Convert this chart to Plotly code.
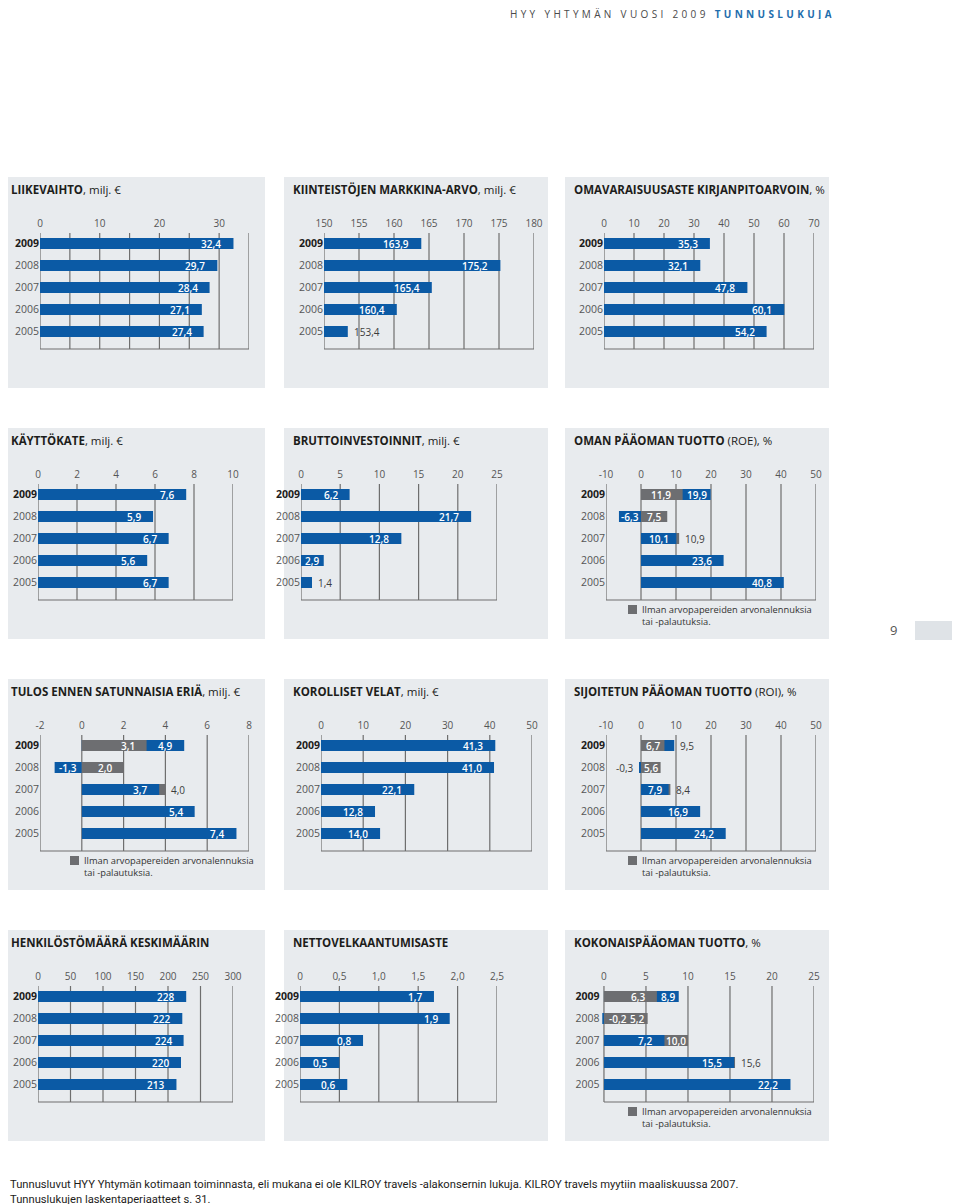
import plotly.graph_objects as go

# ---------------- data ----------------
YEARS = ["2009", "2008", "2007", "2006", "2005"]

LIIKEVAIHTO = [32.4, 29.7, 28.4, 27.1, 27.4]
KIINTEISTOT = [163.9, 175.2, 165.4, 160.4, 153.4]
OMAVARAISUUS = [35.3, 32.1, 47.8, 60.1, 54.2]
KAYTTOKATE = [7.6, 5.9, 6.7, 5.6, 6.7]
BRUTTOINVEST = [6.2, 21.7, 12.8, 2.9, 1.4]
ROE = [19.9, -6.3, 10.1, 23.6, 40.8]
ROE_ILMAN = [11.9, 7.5, 10.9, None, None]
TULOS = [4.9, -1.3, 3.7, 5.4, 7.4]
TULOS_ILMAN = [3.1, 2.0, 4.0, None, None]
KOROLLISET = [41.3, 41.0, 22.1, 12.8, 14.0]
ROI = [9.5, -0.3, 7.9, 16.9, 24.2]
ROI_ILMAN = [6.7, 5.6, 8.4, None, None]
HENKILOSTO = [228, 222, 224, 220, 213]
NETTOVELKA = [1.7, 1.9, 0.8, 0.5, 0.6]
KOKONAIS = [8.9, -0.2, 7.2, 15.5, 22.2]
KOKONAIS_ILMAN = [6.3, 5.2, 10.0, 15.6, None]

TICKS_LIIKEVAIHTO = [0, 10, 20, 30]
TICKS_KIINTEISTOT = [150, 155, 160, 165, 170, 175, 180]
TICKS_OMAVARAISUUS = [0, 10, 20, 30, 40, 50, 60, 70]
TICKS_KAYTTOKATE = [0, 2, 4, 6, 8, 10]
TICKS_BRUTTO = [0, 5, 10, 15, 20, 25]
TICKS_ROE = [-10, 0, 10, 20, 30, 40, 50]
TICKS_TULOS = [-2, 0, 2, 4, 6, 8]
TICKS_KOROLLISET = [0, 10, 20, 30, 40, 50]
TICKS_ROI = [-10, 0, 10, 20, 30, 40, 50]
TICKS_HENKILOSTO = [0, 50, 100, 150, 200, 250, 300]
TICKS_NETTO = [0, 0.5, 1.0, 1.5, 2.0, 2.5]
TICKLABELS_NETTO = ["0", "0,5", "1,0", "1,5", "2,0", "2,5"]
TICKS_KOKONAIS = [0, 5, 10, 15, 20, 25]

LEGEND_TEXT = ["Ilman arvopapereiden arvonalennuksia", "tai -palautuksia."]

# ---------------- style ----------------
W, H = 960, 1204
OX, OY = 8, 8          # the page body adds an 8px offset; positions below are screen pixels
FONT = "Open Sans, Noto Sans, sans-serif"
BLUE = "#0b5aa5"
GRAY = "#6d6e71"
PANEL_BG = "#e8ebee"
GRID = "#6e6e6e"
DARK = "#1d1d1b"
TICKC = "#555555"

ROW_TOPS = [177, 428, 679, 930]
COL_BG = [(2, 265), (284, 548), (565, 829)]


def PX(x):
    return (x - OX) / W


def PY(y):
    return 1 - (y - OY) / H


def fmt(v, dec=1):
    if dec == 0:
        return str(int(round(v)))
    return f"{v:.{dec}f}".replace(".", ",")


def grid_vals(lo, hi, step):
    out = []
    k = 0
    while lo + k * step <= hi + 1e-9:
        out.append(round(lo + k * step, 6))
        k += 1
    return out


PANELS = [
    dict(row=0, col=0, bold="LIIKEVAIHTO", rest=", milj. €", vals=LIIKEVAIHTO,
         dom=(40, 249), rng=(0, 35), grid=grid_vals(0, 35, 5), ticks=TICKS_LIIKEVAIHTO),
    dict(row=0, col=1, bold="KIINTEISTÖJEN MARKKINA-ARVO", rest=", milj. €", vals=KIINTEISTOT,
         dom=(324, 534), rng=(150, 180), grid=grid_vals(150, 180, 5), ticks=TICKS_KIINTEISTOT, base=150),
    dict(row=0, col=2, bold="OMAVARAISUUSASTE KIRJANPITOARVOIN", rest=", %", vals=OMAVARAISUUS,
         dom=(604, 814), rng=(0, 70), grid=grid_vals(0, 70, 10), ticks=TICKS_OMAVARAISUUS),
    dict(row=1, col=0, bold="KÄYTTÖKATE", rest=", milj. €", vals=KAYTTOKATE,
         dom=(38, 233), rng=(0, 10), grid=grid_vals(0, 10, 2), ticks=TICKS_KAYTTOKATE),
    dict(row=1, col=1, bold="BRUTTOINVESTOINNIT", rest=", milj. €", vals=BRUTTOINVEST,
         dom=(301, 497), rng=(0, 25), grid=grid_vals(0, 25, 5), ticks=TICKS_BRUTTO),
    dict(row=1, col=2, bold="OMAN PÄÄOMAN TUOTTO", rest=" (ROE), %", vals=ROE, ilman=ROE_ILMAN,
         dom=(606, 816), rng=(-10, 50), grid=grid_vals(-10, 50, 10), ticks=TICKS_ROE),
    dict(row=2, col=0, bold="TULOS ENNEN SATUNNAISIA ERIÄ", rest=", milj. €", vals=TULOS, ilman=TULOS_ILMAN,
         dom=(40, 249), rng=(-2, 8), grid=grid_vals(-2, 8, 2), ticks=TICKS_TULOS),
    dict(row=2, col=1, bold="KOROLLISET VELAT", rest=", milj. €", vals=KOROLLISET,
         dom=(321, 532), rng=(0, 50), grid=grid_vals(0, 50, 10), ticks=TICKS_KOROLLISET),
    dict(row=2, col=2, bold="SIJOITETUN PÄÄOMAN TUOTTO", rest=" (ROI), %", vals=ROI, ilman=ROI_ILMAN,
         dom=(606, 816), rng=(-10, 50), grid=grid_vals(-10, 50, 10), ticks=TICKS_ROI),
    dict(row=3, col=0, bold="HENKILÖSTÖMÄÄRÄ KESKIMÄÄRIN", rest="", vals=HENKILOSTO, dec=0,
         dom=(38, 233), rng=(0, 300), grid=grid_vals(0, 300, 50), ticks=TICKS_HENKILOSTO),
    dict(row=3, col=1, bold="NETTOVELKAANTUMISASTE", rest="", vals=NETTOVELKA,
         dom=(300, 497), rng=(0, 2.5), grid=grid_vals(0, 2.5, 0.5), ticks=TICKS_NETTO,
         ticklabels=TICKLABELS_NETTO),
    dict(row=3, col=2, bold="KOKONAISPÄÄOMAN TUOTTO", rest=", %", vals=KOKONAIS, ilman=KOKONAIS_ILMAN,
         dom=(600.6, 814), rng=(-0.4, 25), grid=grid_vals(0, 25, 5), ticks=TICKS_KOKONAIS),
]

CHAR_W = {",": 2.7, ".": 2.7, "-": 3.4}


def text_w(s):
    return sum(CHAR_W.get(c, 5.8) for c in s)


PAD = 10
OUT = 4

fig = go.Figure()
layout = dict()
shapes = []
annotations = []

for n, p in enumerate(PANELS, start=1):
    top = ROW_TOPS[p["row"]]
    bx0, bx1 = COL_BG[p["col"]]
    suffix = "" if n == 1 else str(n)
    xname, yname = "x" + suffix, "y" + suffix
    dec = p.get("dec", 1)
    base = p.get("base", 0)
    ilman = p.get("ilman")
    vals = p["vals"]
    rng = p["rng"]
    scale = (p["dom"][1] - p["dom"][0]) / (rng[1] - rng[0])

    # panel background
    shapes.append(dict(type="rect", xref="paper", yref="paper", x0=max(PX(bx0), 0), x1=PX(bx1),
                       y0=PY(top + 211), y1=PY(top), fillcolor=PANEL_BG,
                       line_width=0, layer="below"))
    # title
    annotations.append(dict(xref="paper", yref="paper", x=PX(bx0 + 7), y=PY(top + 12),
                            xanchor="left", yanchor="middle", showarrow=False,
                            text=f"<b>{p['bold']}</b>{p['rest']}",
                            font=dict(family=FONT, size=11.5, color=DARK)))

    # axes
    ticktext = p.get("ticklabels") or [str(t) for t in p["ticks"]]
    layout["xaxis" + suffix] = dict(
        domain=[PX(p["dom"][0]), PX(p["dom"][1])], anchor=yname, side="top",
        range=list(rng), tickmode="array", tickvals=p["ticks"], ticktext=ticktext,
        showgrid=False, zeroline=False, showline=False, ticks="", automargin=False,
        ticklabelstandoff=3,
        tickfont=dict(family=FONT, size=10, color=TICKC), fixedrange=True,
    )
    ytext = [f"<span style='color:{DARK}'><b>{YEARS[0]}</b></span>"] + YEARS[1:]
    layout["yaxis" + suffix] = dict(
        domain=[PY(top + 172), PY(top + 56)], anchor=xname,
        range=[4.795, -0.477], tickmode="array", tickvals=list(range(len(YEARS))),
        ticktext=ytext, showgrid=False, zeroline=False, showline=False, ticks="",
        automargin=False,
        tickfont=dict(family=FONT, size=10.5, color=TICKC), fixedrange=True,
    )

    # grid lines and bottom line
    for g in p["grid"]:
        shapes.append(dict(type="line", xref=xname, yref=yname + " domain", x0=g, x1=g,
                           y0=0, y1=1, line=dict(color=GRID, width=1.2), layer="below"))
    shapes.append(dict(type="line", xref=xname, yref=yname + " domain", x0=p["grid"][0],
                       x1=p["grid"][-1], y0=0, y1=0, line=dict(color=GRID, width=1.2),
                       layer="below"))

    # bars: back (longer) and front (shorter) so both stay visible
    back_x, back_c, front_x, front_c = [], [], [], []
    segments = []  # (yi, start, end, value)
    for i, v in enumerate(vals):
        g = ilman[i] if ilman else None
        if g is None:
            back_x.append(v); back_c.append(BLUE)
            front_x.append(None); front_c.append(GRAY)
            segments.append((i, base, v, v))
        elif v * g > 0:
            if abs(v) >= abs(g):
                back_x.append(v); back_c.append(BLUE)
                front_x.append(g); front_c.append(GRAY)
                segments.append((i, 0, g, g)); segments.append((i, g, v, v))
            else:
                back_x.append(g); back_c.append(GRAY)
                front_x.append(v); front_c.append(BLUE)
                segments.append((i, 0, v, v)); segments.append((i, v, g, g))
        else:
            back_x.append(v); back_c.append(BLUE)
            front_x.append(g); front_c.append(GRAY)
            segments.append((i, 0, v, v)); segments.append((i, 0, g, g))

    for xs, cs in ((back_x, back_c), (front_x, front_c)):
        if all(x is None for x in xs):
            continue
        fig.add_trace(go.Bar(
            y=list(range(len(YEARS))), x=[None if x is None else x - base for x in xs],
            base=base, orientation="h", width=0.5,
            marker=dict(color=cs, line_width=0), xaxis=xname, yaxis=yname,
            showlegend=False, hoverinfo="skip",
        ))

    # value labels
    inside_font = dict(family=FONT, size=10, color="white", weight=600)
    out_font = dict(family=FONT, size=10, color="#3c3c3c")
    crowded = set()
    placed = []
    for (yi, s, e, v) in segments:
        txt = fmt(v, dec)
        w = abs(e - s) * scale
        tw = text_w(txt)
        sign = 1 if e >= s else -1
        if w >= tw + 2 * PAD:
            a = dict(x=e, xanchor="right" if sign > 0 else "left", xshift=-PAD * sign, font=inside_font)
        elif w >= tw + 2:
            a = dict(x=(s + e) / 2, xanchor="center", xshift=0, font=inside_font)
        elif sign > 0:
            a = dict(x=e, xanchor="left", xshift=OUT, font=out_font)
        else:
            room = (e - rng[0]) * scale
            if room >= tw + OUT + 2:
                a = dict(x=e, xanchor="right", xshift=-OUT, font=out_font)
            else:
                # no room left of the axis: label sits inside the neighbouring bar
                a = dict(x=s, xanchor="left", xshift=3, font=inside_font)
                crowded.add(yi)
        a.update(xref=xname, yref=yname, y=yi, yanchor="middle", showarrow=False, text=txt)
        placed.append(a)
    for a in placed:
        if a["y"] in crowded and a["xanchor"] == "right":
            a["xshift"] = -2
        annotations.append(a)

    # legend for panels with the grey series
    if ilman:
        lx = (628 if p["col"] == 2 else 70)
        shapes.append(dict(type="rect", xref="paper", yref="paper", x0=PX(lx), x1=PX(lx + 9),
                           y0=PY(top + 186), y1=PY(top + 177), fillcolor=GRAY,
                           line_width=0))
        annotations.append(dict(xref="paper", yref="paper", x=PX(lx + 12),
                                y=PY(top + 187.5), xanchor="left", align="left",
                                yanchor="middle", showarrow=False,
                                text="<br>".join(LEGEND_TEXT),
                                font=dict(family=FONT, size=9.3, color="#333333")))

# header
SEP = "\u2004"
head1 = SEP.join("HYY YHTYMÄN VUOSI 2009")
head2 = SEP.join("TUNNUSLUKUJA")
annotations.append(dict(xref="paper", yref="paper", x=PX(508), y=PY(13), xanchor="left",
                        yanchor="middle", showarrow=False, height=11,
                        text=f"<span style='color:#4a4a4a'>{head1}</span>{SEP}{SEP} <span style='color:#1f6ead'><b>{head2}</b></span>",
                        font=dict(family=FONT, size=10)))

# page number marker
shapes.append(dict(type="rect", xref="paper", yref="paper", x0=PX(915), x1=PX(960), y0=PY(640),
                   y1=PY(621), fillcolor="#dfe3e7", line_width=0))
annotations.append(dict(xref="paper", yref="paper", x=PX(893), y=PY(630), xanchor="center",
                        yanchor="middle", showarrow=False, text="9",
                        font=dict(family=FONT, size=13, color="#555555")))

# footer (one block, two lines)
FOOT = ["Tunnusluvut HYY Yhtymän kotimaan toiminnasta, eli mukana ei ole KILROY travels -alakonsernin lukuja. KILROY travels myytiin maaliskuussa 2007.",
        "Tunnuslukujen laskentaperiaatteet s. 31."]
annotations.append(dict(xref="paper", yref="paper", x=0, y=PY(1191.5),
                        xanchor="left", yanchor="middle", align="left", showarrow=False,
                        text="<br>".join(FOOT),
                        font=dict(family="Roboto, sans-serif", size=11.2, color=DARK)))

fig.update_layout(
    template="none",
    width=W, height=H, margin=dict(l=0, r=0, t=0, b=0, pad=0), autosize=False,
    paper_bgcolor="white", plot_bgcolor="rgba(0,0,0,0)",
    barmode="overlay", showlegend=False,
    font=dict(family=FONT), shapes=shapes, annotations=annotations,
    **layout,
)

fig.write_html("out.html")
